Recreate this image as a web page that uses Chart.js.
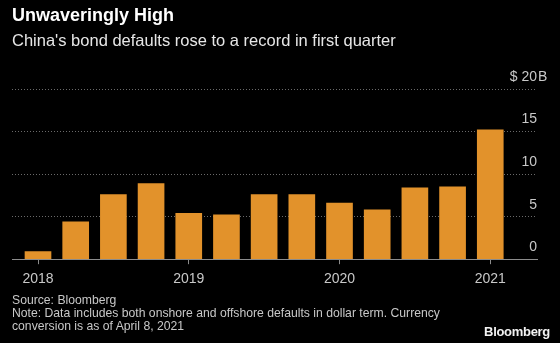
<!DOCTYPE html>
<html>
<head>
<meta charset="utf-8">
<script src="https://cdn.jsdelivr.net/npm/chart.js@4"></script>
<style>
  html, body { margin: 0; padding: 0; background: #000; }
  #wrap { position: relative; width: 560px; height: 343px; overflow: hidden; }
  #chart { position: absolute; left: 0; top: 0; }
  .txt { position: absolute; left: 12px; white-space: nowrap; font-family: "Liberation Sans Narrow", sans-serif; }
  #title { top: 5px; font-family: "Liberation Sans", sans-serif; font-weight: bold; font-size: 18px; color: #fff; }
  #subtitle { top: 31px; font-size: 16.5px; color: #e6e6e6; }
  #source { top: 294px; font-size: 12.2px; line-height: 13px; color: #c8c8c8; }
  #logo { left: auto; right: 10px; top: 324px; font-family: "Liberation Sans", sans-serif; font-weight: bold; font-size: 13px; color: #f2f2f2; letter-spacing: -0.3px; }
</style>
</head>
<body>
<div id="wrap">
  <canvas id="chart" width="560" height="343"></canvas>
  <div class="txt" id="title">Unwaveringly High</div>
  <div class="txt" id="subtitle">China's bond defaults rose to a record in first quarter</div>
  <div class="txt" id="source">Source: Bloomberg<br>Note: Data includes both onshore and offshore defaults in dollar term. Currency<br>conversion is as of April 8, 2021</div>
  <div class="txt" id="logo">Bloomberg</div>
</div>
<script>
// quarterly defaults, billions of dollars
const quarters = ['2018 Q1', '2018 Q2', '2018 Q3', '2018 Q4',
                  '2019 Q1', '2019 Q2', '2019 Q3', '2019 Q4',
                  '2020 Q1', '2020 Q2', '2020 Q3', '2020 Q4',
                  '2021 Q1']
const defaults = [0.9, 4.4, 7.6, 8.9, 5.4, 5.2, 7.6, 7.6, 6.6, 5.8, 8.4, 8.5, 15.2]
const yearLabels = ['2018', '2019', '2020', '2021']
const yTicks = [0, 5, 10, 15, 20]
const unit = 'B'

const ctx = document.getElementById('chart')
const tickFont = { family: '"Liberation Sans Narrow", sans-serif', size: 14 }

// one bar per quarter, year tick on each first quarter
const points = defaults.map((v, i) => ({ x: i, y: v }))
const yearTickPos = yearLabels.map((y, i) => i * 4)
const topTick = yTicks[yTicks.length - 1]

// unit letter hangs right of the top label, like the original
const unitPlugin = {
    id: 'unitLetter',
    afterDraw(chart) {
        const y = chart.scales.y
        const c = chart.ctx
        c.save()
        c.font = '14px "Liberation Sans Narrow", sans-serif'
        c.fillStyle = '#c8c8c8'
        c.textAlign = 'left'
        c.textBaseline = 'middle'
        c.fillText(unit, chart.chartArea.right + 1, y.getPixelForValue(topTick) - 12)
        c.restore()
    }
}

new Chart(ctx, {
    type: 'bar',
    data: {
        datasets: [{
            label: 'Defaults',
            data: points,
            backgroundColor: '#e2922b',
            borderWidth: 0,
            barThickness: 26
        }]
    },
    options: {
        responsive: false,
        animation: false,
        layout: { padding: { left: 12, right: 23, top: 89, bottom: 48 } },
        plugins: { legend: { display: false }, tooltip: { enabled: false } },
        scales: {
            x: {
                type: 'linear',
                offset: false,
                min: -0.69,
                max: 13.24,
                afterBuildTicks: (axis) => { axis.ticks = yearTickPos.map(v => ({ value: v })) },
                ticks: {
                    color: '#c8c8c8',
                    font: tickFont,
                    padding: 7,
                    maxRotation: 0,
                    callback: (v) => yearLabels[yearTickPos.indexOf(v)]
                },
                grid: { offset: false, drawOnChartArea: false, tickLength: 5, color: '#8c8c8c' },
                border: { display: true, color: '#8c8c8c', width: 1 }
            },
            y: {
                position: 'right',
                min: 0,
                max: 20,
                afterBuildTicks: (axis) => { axis.ticks = yTicks.map(v => ({ value: v })) },
                ticks: {
                    mirror: true,
                    padding: 0,
                    labelOffset: -12,
                    color: '#c8c8c8',
                    font: tickFont,
                    callback: (v) => v === topTick ? '$ ' + v : v
                },
                grid: {
                    drawTicks: false,
                    color: (c) => c.tick && c.tick.value === 0 ? 'rgba(0,0,0,0)' : '#6a6a6a',
                    lineWidth: 1
                },
                border: { display: false, dash: [1, 2] }
            }
        }
    },
    plugins: [unitPlugin]
})
</script>
</body>
</html>
